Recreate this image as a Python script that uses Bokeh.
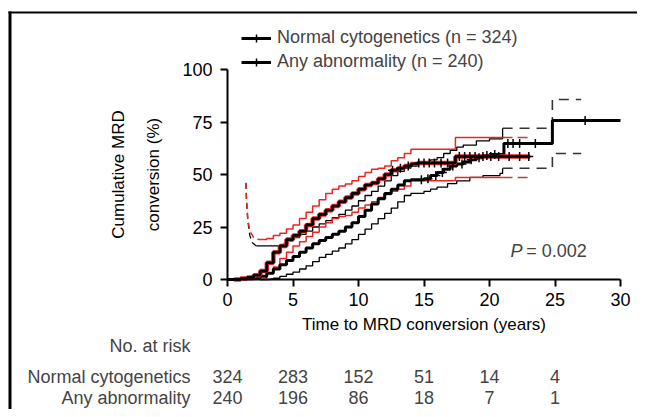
import numpy as np
from bokeh.plotting import figure
from bokeh.core.properties import value
from bokeh.models import (Range1d, FixedTicker, Legend, LegendItem, Label,
                          LabelSet, ColumnDataSource, LinearAxis, BoxAnnotation)
from bokeh.embed import file_html
from bokeh.resources import INLINE

# ---------------- data ----------------
x_ticks = [0, 5, 10, 15, 20, 25, 30]
y_ticks = [0, 25, 50, 75, 100]

# Normal cytogenetics (n = 324): cumulative MRD conversion (%)
norm_t = [0, 1.0, 2.0, 2.5, 3.0, 3.5, 4.0, 4.5, 5.0, 5.5, 6.0, 6.5, 7.0, 7.5, 8.0,
          8.5, 9.0, 9.5, 10.0, 10.5, 11.0, 11.5, 12.0, 12.5, 13.0, 13.5, 14.0,
          15.0, 15.5, 16.0, 16.5, 17.0, 17.5, 18.0, 18.5, 19.0, 19.5, 20.0,
          21.1, 24.8, 30.0]
norm_y = [0, 0.3, 0.8, 1.5, 3, 5, 7, 9, 11, 13, 15, 17, 18.6, 20, 21.5,
          23, 25, 27, 30, 33, 36, 38.5, 41, 43, 45, 47, 47.5,
          48, 49.5, 51, 52.5, 54, 55, 56, 57, 58, 59, 59.5,
          64.8, 75.7, 75.7]
norm_hi_early_t = [1.4, 1.45, 1.55, 1.7, 1.9, 2.2]
norm_hi_early_y = [46, 38, 28, 21, 17.5, 16]
norm_hi_t = [2.2, 4.3, 4.6, 5.0, 5.5, 6.0, 6.5, 7.0, 7.5, 8.0, 8.5, 9.0, 9.5, 10.0,
             10.5, 11.0, 11.5, 12.0, 12.5, 13.0, 13.5, 14.0, 14.5, 15.0, 15.5,
             16.0, 16.5, 17.0, 17.5, 18.0, 19.0, 20.0, 21.0, 24.8, 27.0]
norm_hi_y = [16, 17, 18.5, 20, 21.5, 23, 25, 26.5, 28, 29.5, 31, 33, 35, 37.5,
             40, 42, 44.5, 47, 49.5, 51.5, 53, 54, 55, 56, 57,
             58, 60, 61.5, 63, 64, 66, 67, 72, 85.7, 85.7]
norm_lo_t = [2.5, 3.3, 3.5, 4.0, 4.5, 5.0, 5.5, 6.0, 6.5, 7.0, 7.5, 8.0, 8.5, 9.0,
             9.5, 10.0, 10.5, 11.0, 11.5, 12.0, 12.5, 13.0, 13.5, 14.0, 15.0,
             15.5, 16.0, 16.8, 17.5, 18.5, 19.5, 20.8, 21.0, 24.8, 27.0]
norm_lo_y = [0, 0.3, 0.6, 1.5, 2.5, 3.5, 5, 6.5, 8.5, 10.5, 12, 13.5, 15, 17,
             19, 21.5, 24, 26.5, 29, 31.5, 34, 37, 40, 41, 42,
             43, 44, 45.7, 47, 48.6, 49.5, 50.5, 53, 60, 60]
norm_cens_t = [14.8, 15.3, 15.9, 16.4, 17.2, 17.9, 18.6, 19.2, 19.8, 20.4,
               21.4, 21.8, 22.3, 23.5, 27.3]

# Any abnormality (n = 240)
abn_t = [0.5, 1.0, 1.5, 2.0, 2.5, 3.0, 3.5, 4.0, 4.5, 5.0, 5.5, 6.0, 6.5, 7.0,
         7.5, 8.0, 8.5, 9.0, 9.5, 10.0, 10.5, 11.0, 11.5, 12.0, 12.5, 13.0,
         13.5, 14.0, 14.5, 17.4, 23.1]
abn_y = [0, 0.5, 1, 2, 4, 8, 13, 16, 19, 21, 23, 26, 29, 31,
         33, 35, 37, 39, 41, 43, 45, 46, 48, 50, 52, 53,
         54, 55, 55.5, 58.6, 58.6]
abn_hi_early_t = [1.4, 1.45, 1.55, 1.7, 2.0, 2.4]
abn_hi_early_y = [46, 38, 29, 23, 20, 19]
abn_hi_t = [2.4, 3.0, 3.5, 4.0, 4.5, 5.0, 5.5, 6.0, 6.5, 7.0, 7.5, 8.0, 8.5, 9.0,
            9.5, 10.0, 10.5, 11.0, 11.5, 12.0, 12.5, 13.0, 13.5, 14.0, 17.4,
            21.0, 23.1]
abn_hi_y = [19, 19.5, 21, 22, 24, 26, 29, 32, 35, 38, 41, 43, 44.5, 45.5,
            47, 49, 51, 52.5, 53, 54, 56.5, 58, 60, 62, 67.6,
            67.6, 67.6]
abn_lo_t = [2.5, 3.0, 3.5, 4.0, 4.5, 5.0, 5.5, 6.0, 6.5, 7.0, 7.5, 8.0, 8.5, 9.0,
            9.5, 10.0, 10.5, 11.0, 11.5, 12.0, 12.5, 13.0, 13.5, 14.0, 17.4,
            21.0, 23.1]
abn_lo_y = [0, 3, 6, 10, 13, 16, 18, 20.5, 22.5, 25, 27, 29, 30, 30.5,
            32, 34, 35.5, 37, 39, 40.5, 42, 43, 44.5, 47, 48.6,
            48.6, 48.6]
abn_cens_t = [12.6, 13.2, 13.8, 14.6, 15.0, 15.4, 15.8, 16.3, 16.8, 17.7,
              18.1, 18.5, 18.9, 19.5, 20.1, 20.7, 21.5, 22.3, 23.0]

dash_from = 21.0  # CI tails drawn dashed from here on

risk_times = [0, 5, 10, 15, 20, 25]
risk_norm = [324, 283, 152, 51, 14, 4]
risk_abn = [240, 196, 86, 18, 7, 1]
p_value = "0.002"

# ---------------- layout constants (pixels) ----------------
W, H = 637, 409
X0_PX, X30_PX = 227, 620      # where years 0 and 30 sit
Y0_PX, Y100_PX = 279, 69      # where 0 % and 100 % sit (from top)

FONT = "Liberation Sans"
RED = "#ee2424"
DARKRED = "#a84a48"


def step_at(ts, ys, q):
    ts = np.asarray(ts); ys = np.asarray(ys)
    idx = np.searchsorted(ts, q, side="right") - 1
    return ys[np.clip(idx, 0, len(ys) - 1)]


def split(ts, ys, cut):
    ts = np.asarray(ts, float); ys = np.asarray(ys, float)
    return (ts[ts <= cut], ys[ts <= cut]), (ts[ts >= cut], ys[ts >= cut])


xs_px = (X30_PX - X0_PX) / 30.0
ys_px = (Y0_PX - Y100_PX) / 100.0
x_range = Range1d(-X0_PX / xs_px, 30 + (W - X30_PX) / xs_px)
y_range = Range1d(-(H - Y0_PX) / ys_px, 100 + Y100_PX / ys_px)

# ---------------- figure (frame fills the canvas) ----------------
p = figure(width=W, height=H, output_backend="svg", toolbar_location=None,
           x_range=x_range, y_range=y_range,
           x_axis_location=None, y_axis_location=None,
           min_border=0)
p.xgrid.visible = False
p.ygrid.visible = False
p.outline_line_color = None
p.background_fill_color = "white"
p.border_fill_color = "white"

xaxis = LinearAxis(fixed_location=0, bounds=(0, 30),
                   ticker=FixedTicker(ticks=x_ticks),
                   axis_label="Time to MRD conversion (years)")
yaxis = LinearAxis(fixed_location=0, bounds=(0, 100),
                   ticker=FixedTicker(ticks=y_ticks),
                   axis_label="Cumulative MRD\nconversion (%)")
for ax in (xaxis, yaxis):
    ax.axis_line_width = 2
    ax.major_tick_line_width = 2
    ax.major_tick_out = 7
    ax.major_tick_in = 0
    ax.minor_tick_line_color = None
    ax.major_label_text_font = FONT
    ax.major_label_text_font_size = "18px"
    ax.major_label_text_color = "black"
    ax.axis_label_text_font = FONT
    ax.axis_label_text_font_size = "17px"
    ax.axis_label_text_font_style = "normal"
    ax.axis_label_text_color = "black"
xaxis.major_label_standoff = 6
yaxis.major_label_standoff = 8
xaxis.axis_label_standoff = 6
yaxis.axis_label_standoff = 16
yaxis.axis_label_text_line_height = 1.85
p.add_layout(xaxis, "below")
p.add_layout(yaxis, "left")

# outer L-shaped frame line (top and left)
p.add_layout(BoxAnnotation(left=8, right=11, bottom=0, top=H - 11,
                           left_units="screen", right_units="screen",
                           bottom_units="screen", top_units="screen",
                           fill_color="black", fill_alpha=1, line_color=None))
p.add_layout(BoxAnnotation(left=8, right=W, bottom=H - 13, top=H - 11,
                           left_units="screen", right_units="screen",
                           bottom_units="screen", top_units="screen",
                           fill_color="black", fill_alpha=1, line_color=None))

# Normal cytogenetics CIs
p.line(norm_hi_early_t, norm_hi_early_y, line_color="black", line_width=1.3,
       line_dash="6 4")
(s_t, s_y), (d_t, d_y) = split(norm_hi_t, norm_hi_y, dash_from)
p.step(s_t, s_y, mode="after", line_color="black", line_width=1.3)
p.step(d_t, d_y, mode="after", line_color="#333333", line_width=1.6, line_dash="10 7")
(s_t, s_y), (d_t, d_y) = split(norm_lo_t, norm_lo_y, dash_from)
p.step(s_t, s_y, mode="after", line_color="black", line_width=1.3)
p.step(d_t, d_y, mode="after", line_color="#333333", line_width=1.6, line_dash="10 7")

# Any abnormality CIs
p.line(abn_hi_early_t, abn_hi_early_y, line_color=RED, line_width=1.5,
       line_dash="6 4")
(s_t, s_y), (d_t, d_y) = split(abn_hi_t, abn_hi_y, dash_from)
p.step(s_t, s_y, mode="after", line_color=RED, line_width=1.5)
p.step(d_t, d_y, mode="after", line_color=DARKRED, line_width=1.5, line_dash="10 5")
(s_t, s_y), (d_t, d_y) = split(abn_lo_t, abn_lo_y, dash_from)
p.step(s_t, s_y, mode="after", line_color=RED, line_width=1.5)
p.step(d_t, d_y, mode="after", line_color=DARKRED, line_width=1.5, line_dash="10 5")

# main curves
r_norm = p.step(norm_t, norm_y, mode="after", line_color="black", line_width=3)
p.step(abn_t, abn_y, mode="after", line_color=RED, line_width=4.5)
r_abn = p.step(abn_t, abn_y, mode="after", line_color="black", line_width=2.6)

# censor marks (crosses centred on the curve read as vertical ticks)
c_norm = p.scatter(norm_cens_t, step_at(norm_t, norm_y, norm_cens_t),
                   marker="cross", size=9, line_color="black", line_width=1.5)
c_abn = p.scatter(abn_cens_t, step_at(abn_t, abn_y, abn_cens_t),
                  marker="cross", size=9, line_color="black", line_width=1.5)

# legend (position in screen px from the canvas bottom-left)
legend = Legend(items=[
    LegendItem(label="Normal cytogenetics (n = 324)", renderers=[r_norm, c_norm]),
    LegendItem(label="Any abnormality (n = 240)", renderers=[r_norm, c_abn]),
], location=(241, H - 72))
legend.label_text_font = FONT
legend.label_text_font_size = "18px"
legend.glyph_width = 30
legend.glyph_height = 20
legend.label_height = 20
legend.spacing = 3
legend.padding = 0
legend.margin = 0
legend.label_standoff = 6
legend.border_line_alpha = 0
legend.background_fill_alpha = 0
p.add_layout(legend)

# P value
p.add_layout(Label(x=21.6, y=13.8, text="P", text_font=FONT,
                   text_font_size="18px", text_font_style="italic",
                   text_baseline="middle"))
p.add_layout(Label(x=22.8, y=13.8, text="= " + p_value, text_font=FONT,
                   text_font_size="18px", text_baseline="middle"))

# number at risk table
p.add_layout(Label(x=190, y=H - 345, x_units="screen", y_units="screen",
                   text="No. at risk", text_font=FONT, text_font_size="18px",
                   text_align="right", text_baseline="middle"))
for lab, counts, ypx in (("Normal cytogenetics", risk_norm, 376),
                         ("Any abnormality", risk_abn, 397)):
    p.add_layout(Label(x=190, y=H - ypx, x_units="screen", y_units="screen",
                       text=lab, text_font=FONT, text_font_size="18px",
                       text_align="right", text_baseline="middle"))
    src = ColumnDataSource(dict(x=risk_times, text=[str(c) for c in counts]))
    p.add_layout(LabelSet(x="x", y=H - ypx, y_units="screen", text="text",
                          source=src, text_font=value(FONT),
                          text_font_size=value("18px"),
                          text_align="center", text_baseline="middle"))

open("out.html", "w").write(file_html(p, INLINE))
